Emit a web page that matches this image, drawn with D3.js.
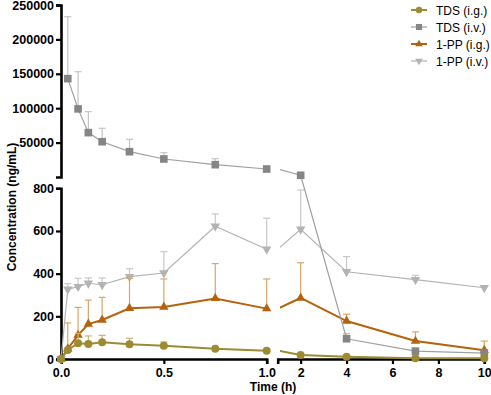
<!DOCTYPE html>
<html>
<head>
<meta charset="utf-8">
<script src="https://cdn.jsdelivr.net/npm/d3@7"></script>
<style>
  body { margin: 0; background: #fff; }
  text { font-family: Arial, "Liberation Sans", sans-serif; }
</style>
</head>
<body>
<svg id="chart" width="491" height="395"></svg>
<script>
// sampling times (h)
var times = [0, 0.033, 0.083, 0.133, 0.2, 0.333, 0.5, 0.75, 1, 2, 4, 7, 10];

var tdsIgMean = [0, 42, 74, 70, 78, 69, 62, 48, 39, 19, 11, 3, 3];
var tdsIgErr  = [0, 0, 46, 38, 33, 28, 18, 0, 0, 0, 0, 0, 0];

var tdsIvMean = [null, 143000, 99000, 64500, 51300, 36800, 26200, 17900, 11600, 2500, 95, 37, 28];
var tdsIvErr  = [null, 90000, 54000, 30500, 19500, 18000, 9100, 8700, 0, 0, 24, 0, 0];

var ppIgMean = [0, 48, 112, 164, 183, 238, 244, 284, 236, 286, 178, 84, 41];
var ppIgErr  = [0, 121, 130, 112, 106, 140, 131, 163, 139, 165, 32, 43, 43];

var ppIvMean = [0, 327, 339, 355, 348, 386, 403, 622, 514, 608, 409, 372, 334];
var ppIvErr  = [0, 26, 39, 25, 32, 37, 100, 58, 146, 184, 71, 20, 0];

var seriesNames = ['TDS (i.g.)', 'TDS (i.v.)', '1-PP (i.g.)', '1-PP (i.v.)'];

var yLoTicks = [0, 200, 400, 600, 800];
var yUpTicks = [50000, 100000, 150000, 200000, 250000];
var x1Ticks = [0, 0.5, 1];
var x2Ticks = [2, 4, 6, 8, 10];

var svg = d3.select('#chart');

var x1 = d3.scaleLinear().domain([0, 1]).range([61, 266.7]);
var x2 = d3.scaleLinear().domain([1, 10]).range([277.7, 484.3]);
var yLo = d3.scaleLinear().domain([0, 800]).range([359, 188.3]);
var yUp = d3.scaleLinear().domain([0, 250000]).range([177, 5]);

function yv(v) { return v > 800 ? yUp(v) : yLo(v); }

var series = [
  { name: seriesNames[3], mean: ppIvMean, err: ppIvErr, color: '#b3b3b3', errColor: '#c8c8c8', sym: 'down', lw: 1.2 },
  { name: seriesNames[2], mean: ppIgMean, err: ppIgErr, color: '#b5620b', errColor: '#dba46c', sym: 'up', lw: 2 },
  { name: seriesNames[1], mean: tdsIvMean, err: tdsIvErr, color: '#858585', errColor: '#c4c4c4', sym: 'square', lw: 1.2, lineColor: '#a0a0a0' },
  { name: seriesNames[0], mean: tdsIgMean, err: tdsIgErr, color: '#9c8b30', errColor: '#c2b67c', sym: 'circle', lw: 2 }
];

function symbolPath(kind) {
  if (kind == 'circle') return d3.symbol().type(d3.symbolCircle).size(50)();
  if (kind == 'square') return d3.symbol().type(d3.symbolSquare).size(58)();
  return d3.symbol().type(d3.symbolTriangle).size(38)();
}

// axes
var axisStyle = function(g) {
  g.select('.domain').attr('stroke', '#000').attr('stroke-width', 2.6);
  g.selectAll('.tick line').attr('stroke', '#000').attr('stroke-width', 2.2);
  g.selectAll('.tick text').attr('fill', '#000').style('font-size', '12.5px').style('font-weight', 'bold');
};

svg.append('g')
  .attr('transform', 'translate(61,0)')
  .call(d3.axisLeft(yLo).tickValues(yLoTicks).tickSize(5).tickSizeOuter(5).tickPadding(2))
  .call(axisStyle);

svg.append('g')
  .attr('transform', 'translate(61,0)')
  .call(d3.axisLeft(yUp).tickValues(yUpTicks).tickSize(5).tickSizeOuter(5).tickPadding(2).tickFormat(d3.format('d')))
  .call(axisStyle);

svg.append('g')
  .attr('transform', 'translate(0,359)')
  .call(d3.axisBottom(x1).tickValues(x1Ticks).tickSize(5).tickSizeOuter(5).tickPadding(4).tickFormat(d3.format('.1f')))
  .call(axisStyle);

svg.append('g')
  .attr('transform', 'translate(0,359)')
  .call(d3.axisBottom(x2).tickValues(x2Ticks).tickSize(5).tickSizeOuter(5).tickPadding(4).tickFormat(d3.format('d')))
  .call(axisStyle);

svg.append('text')
  .attr('transform', 'translate(16,207) rotate(-90)')
  .attr('text-anchor', 'middle')
  .style('font-size', '12px')
  .style('font-weight', 'bold')
  .text('Concentration (ng/mL)');

svg.append('text')
  .attr('x', 273).attr('y', 391)
  .attr('text-anchor', 'middle')
  .style('font-size', '12px')
  .style('font-weight', 'bold')
  .text('Time (h)');

// clip for the second x segment
svg.append('clipPath').attr('id', 'seg2clip')
  .append('rect').attr('x', 280).attr('y', 0).attr('width', 211).attr('height', 395);

var plotG = svg.append('g');

series.forEach(function(s) {
  var pts = times.map(function(t, i) { return { t: t, v: s.mean[i], e: s.err[i] }; })
    .filter(function(d) { return d.v != null; });
  var seg1 = pts.filter(function(d) { return d.t <= 1; });
  var seg2 = pts.filter(function(d) { return d.t >= 1; });
  var xOf = function(d) { return d.t <= 1 ? x1(d.t) : x2(d.t); };

  var g = plotG.append('g');

  // error bars (upper only)
  var eb = g.selectAll('.err').data(pts.filter(function(d) { return d.e > 0; }))
    .enter().append('g').attr('class', 'err');
  eb.append('line')
    .attr('x1', xOf).attr('x2', xOf)
    .attr('y1', function(d) { return yv(d.v); })
    .attr('y2', function(d) { return yv(d.v + d.e); })
    .attr('stroke', s.errColor).attr('stroke-width', 1.2);
  eb.append('line')
    .attr('x1', function(d) { return xOf(d) - 3.5; })
    .attr('x2', function(d) { return xOf(d) + 3.5; })
    .attr('y1', function(d) { return yv(d.v + d.e); })
    .attr('y2', function(d) { return yv(d.v + d.e); })
    .attr('stroke', s.errColor).attr('stroke-width', 1.2);

  var line1 = d3.line().x(function(d) { return x1(d.t); }).y(function(d) { return yv(d.v); });
  var line2 = d3.line().x(function(d) { return x2(d.t); }).y(function(d) { return yv(d.v); });

  g.append('path').attr('d', line1(seg1))
    .attr('fill', 'none').attr('stroke', s.lineColor || s.color).attr('stroke-width', s.lw);
  g.append('path').attr('d', line2(seg2))
    .attr('clip-path', 'url(#seg2clip)')
    .attr('fill', 'none').attr('stroke', s.lineColor || s.color).attr('stroke-width', s.lw);

  g.selectAll('.mark').data(pts).enter().append('path')
    .attr('class', 'mark')
    .attr('d', symbolPath(s.sym))
    .attr('transform', function(d) {
      return 'translate(' + [xOf(d), yv(d.v)] + ')' + (s.sym == 'down' ? ' rotate(180)' : '');
    })
    .attr('fill', s.color);
});

// legend
var legend = svg.append('g');
var legendOrder = series.slice().reverse();
legendOrder.forEach(function(s, i) {
  var ly = 10 + i * 17;
  legend.append('line')
    .attr('x1', 411).attr('x2', 427).attr('y1', ly).attr('y2', ly)
    .attr('stroke', s.lineColor || s.color).attr('stroke-width', s.lw);
  legend.append('path')
    .attr('d', symbolPath(s.sym))
    .attr('transform', 'translate(' + [419, ly] + ')' + (s.sym == 'down' ? ' rotate(180)' : '') + ' scale(0.8)')
    .attr('fill', s.color);
  legend.append('text')
    .attr('x', 436).attr('y', ly + 4.5)
    .style('font-size', '12px')
    .text(s.name);
});
</script>
</body>
</html>
